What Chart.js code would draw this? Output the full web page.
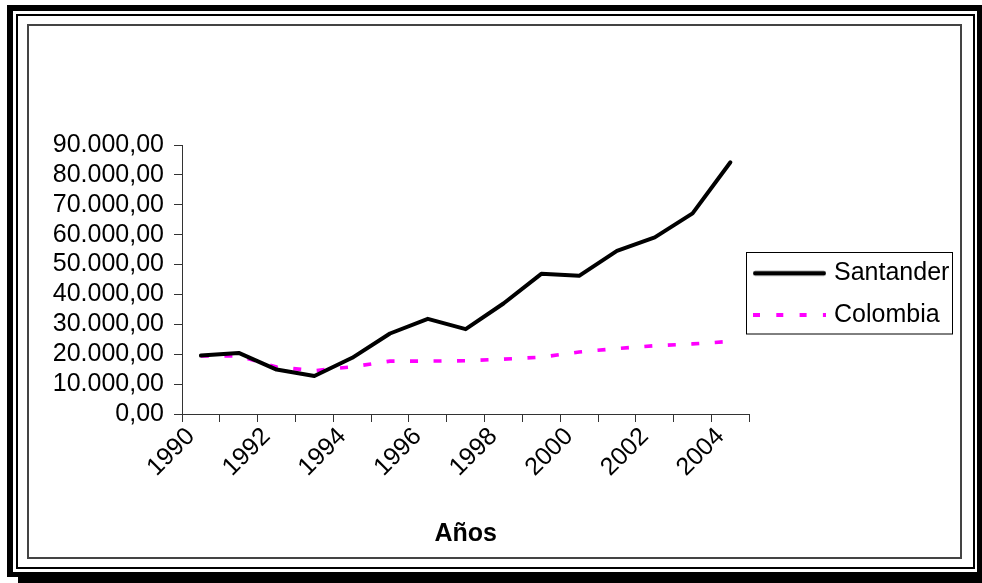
<!DOCTYPE html>
<html>
<head>
<meta charset="utf-8">
<script src="https://cdn.jsdelivr.net/npm/chart.js@4.4.1/dist/chart.umd.min.js"></script>
<style>
  html, body { margin: 0; padding: 0; background: #fff; overflow: hidden; }
  #wrap { width: 982px; height: 583px; position: relative; }
</style>
</head>
<body>
<div id="wrap"><canvas id="c" width="982" height="583"></canvas></div>
<script>
// Años de la serie
const years = ['1990', '1991', '1992', '1993', '1994', '1995', '1996', '1997',
               '1998', '1999', '2000', '2001', '2002', '2003', '2004'];
// Valores por año
const santander = [19560, 20440, 14870, 12730, 18800, 26930, 31830, 28380,
                   36980, 46900, 46230, 54600, 59100, 67140, 84220];
const colombia  = [19400, 19400, 15700, 14500, 15800, 17700, 17700, 17800,
                   18350, 19000, 20750, 21900, 22850, 23450, 24300];
// Eje Y
const yMin = 0;
const yMax = 90000;
const yStep = 10000;
const seriesNames = ['Santander', 'Colombia'];
const axisTitle = 'Años';

const FONT = "'Liberation Sans', Arial, Helvetica, sans-serif";
const FONT_SIZE = 25;

// Formato 90.000,00
function fmtNum(v) {
  const s = Math.round(v).toString().replace(/\B(?=(\d{3})+(?!\d))/g, '.');
  return s + ',00';
}

// Muestra de línea para la leyenda (respeta color, grosor y guiones)
function lineSample(color, width, dash, cap) {
  const c = document.createElement('canvas');
  c.width = 73; c.height = 8;
  const g = c.getContext('2d');
  g.strokeStyle = color;
  g.lineWidth = width;
  g.lineCap = cap || 'butt';
  g.setLineDash(dash || []);
  g.beginPath();
  const inset = cap === 'round' ? width / 2 : 0;
  g.moveTo(inset, 4);
  g.lineTo(c.width - inset, 4);
  g.stroke();
  return c;
}

// Marco doble alrededor del gráfico
const framePlugin = {
  id: 'frame',
  beforeDraw(chart) {
    const ctx = chart.ctx;
    ctx.save();
    ctx.fillStyle = '#fff';
    ctx.fillRect(0, 0, chart.width, chart.height);
    // banda negra gruesa (con sombra abajo/derecha)
    ctx.fillStyle = '#000';
    ctx.fillRect(7, 5, 975, 578);
    ctx.fillStyle = '#fff';
    ctx.fillRect(13, 11, 964, 561);
    ctx.fillRect(0, 577, 18, 6);
    // línea negra fina
    ctx.strokeStyle = '#000';
    ctx.lineWidth = 2;
    ctx.strokeRect(17, 15, 957, 553);
    // borde gris interior
    ctx.strokeStyle = '#444';
    ctx.lineWidth = 2;
    ctx.strokeRect(28, 25, 933, 533);
    ctx.restore();
  }
};

// Leyenda: posición del bloque y recuadro
const legendBoxPlugin = {
  id: 'legendBox',
  afterLayout(chart) {
    const lg = chart.legend;
    lg.left = 740.8; lg.right = 955;
    lg.top = 145; lg.bottom = 443.3;
  },
  afterDraw(chart) {
    const ctx = chart.ctx;
    ctx.save();
    ctx.strokeStyle = '#000';
    ctx.lineWidth = 1;
    ctx.strokeRect(746.5, 252.5, 206, 81.5);
    ctx.restore();
  }
};

const santanderStyle = { color: '#000000', width: 4, dash: [], cap: 'round' };
const colombiaStyle  = { color: '#ff00ff', width: 3.6, dash: [8, 15.5], cap: 'butt' };

new Chart(document.getElementById('c'), {
  type: 'line',
  data: {
    labels: years,
    datasets: [
      {
        label: seriesNames[0],
        data: santander,
        borderColor: santanderStyle.color,
        backgroundColor: santanderStyle.color,
        borderWidth: santanderStyle.width,
        borderJoinStyle: 'round',
        borderCapStyle: santanderStyle.cap,
        pointRadius: 0,
        pointStyle: lineSample(santanderStyle.color, 4.5, santanderStyle.dash, 'round'),
        tension: 0,
        fill: false
      },
      {
        label: seriesNames[1],
        data: colombia,
        borderColor: colombiaStyle.color,
        backgroundColor: colombiaStyle.color,
        borderWidth: colombiaStyle.width,
        borderDash: colombiaStyle.dash,
        borderCapStyle: colombiaStyle.cap,
        pointRadius: 0,
        pointStyle: lineSample(colombiaStyle.color, 4, [7, 16.3], 'butt'),
        tension: 0,
        fill: false
      }
    ]
  },
  options: {
    responsive: false,
    animation: false,
    devicePixelRatio: 1,
    layout: { padding: { left: 30, top: 145, right: 20, bottom: 33.6 } },
    plugins: {
      legend: {
        position: 'right',
        maxWidth: 212.7,
        labels: {
          usePointStyle: true,
          pointStyleWidth: 64,
          padding: 16.7,
          color: '#000',
          font: { family: FONT, size: FONT_SIZE }
        }
      },
      tooltip: { enabled: false },
      title: { display: false }
    },
    scales: {
      x: {
        type: 'category',
        offset: true,
        grid: {
          offset: true,
          drawOnChartArea: false,
          drawTicks: true,
          tickLength: 8,
          color: '#333',
          tickColor: '#333'
        },
        border: { color: '#333', width: 1 },
        ticks: {
          autoSkip: false,
          maxRotation: 45,
          minRotation: 45,
          padding: 0,
          labelOffset: -10,
          color: '#000',
          font: { family: FONT, size: FONT_SIZE },
          callback: (v, i) => (i % 2 === 0 ? years[i] : '')
        },
        title: {
          display: true,
          text: axisTitle,
          color: '#000',
          padding: { top: 0, bottom: 0 },
          font: { family: FONT, size: FONT_SIZE, weight: 'bold' }
        },
        afterFit(scale) { scale.height = 135.4; }
      },
      y: {
        min: yMin,
        max: yMax,
        grid: {
          drawOnChartArea: false,
          drawTicks: true,
          tickLength: 8,
          color: '#333',
          tickColor: '#333'
        },
        border: { color: '#333', width: 1 },
        ticks: {
          stepSize: yStep,
          autoSkip: false,
          padding: 10,
          color: '#000',
          font: { family: FONT, size: FONT_SIZE },
          callback: (v) => fmtNum(v)
        },
        afterFit(scale) { scale.width = 152; }
      }
    }
  },
  plugins: [framePlugin, legendBoxPlugin]
});
</script>
</body>
</html>
